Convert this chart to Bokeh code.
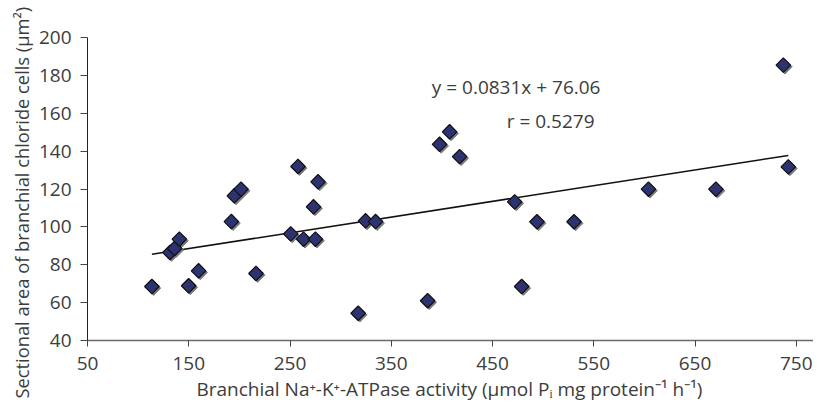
from bokeh.plotting import figure
from bokeh.models import Label, Range1d, FixedTicker, Title
from bokeh.embed import file_html
from bokeh.resources import INLINE
import math

# Data
atpase = [113.6, 131.4, 136.0, 140.7, 159.7, 149.9, 192.1, 195.0, 201.6, 216.4,
          250.7, 263.3, 275.1, 257.9, 277.7, 273.2, 324.6, 334.5, 317.3, 385.9,
          397.7, 407.6, 417.5, 471.9, 493.9, 478.8, 530.5, 604.0, 670.6, 742.1, 737.2]
area = [68.5, 86.5, 88.6, 93.5, 76.8, 68.9, 102.8, 116.4, 119.9, 75.4,
        96.3, 93.5, 93.5, 131.9, 123.8, 110.6, 103.2, 102.8, 54.4, 61.0,
        143.6, 150.2, 137.1, 113.2, 102.7, 68.5, 102.7, 119.9, 119.9, 131.7, 185.4]
slope = 0.0831
intercept = 76.06
x_ticks = [50, 150, 250, 350, 450, 550, 650, 750]
y_ticks = [40, 60, 80, 100, 120, 140, 160, 180, 200]
eq_text = "y = 0.0831x + 76.06"
r_text = "r = 0.5279"
x_title = "Branchial Na\u207a-K\u207a-ATPase activity (\u03bcmol P\u1d62 mg protein\u207b\u00b9 h\u207b\u00b9)"
y_title = "Sectional area of branchial chloride cells (\u03bcm\u00b2)"

FONT = "Open Sans"
TXT = "#3c3c3c"
FS = "19px"

x_start, x_end = 50, 767
y_start, y_end = 40, 200
W, H = 813, 403
BL, BR, BT, BB = 87, 0, 37, 63

p = figure(width=W, height=H, output_backend="svg", toolbar_location=None,
           x_range=Range1d(x_start, x_end), y_range=Range1d(y_start, y_end),
           min_border_left=BL, min_border_right=BR, min_border_top=BT, min_border_bottom=BB)
p.outline_line_color = None
p.xgrid.visible = False
p.ygrid.visible = False

for ax in (p.xaxis[0], p.yaxis[0]):
    ax.major_label_text_font = FONT
    ax.major_label_text_font_size = FS
    ax.major_label_text_color = TXT
    ax.minor_tick_line_color = None
    ax.major_tick_in = 0

p.xaxis.ticker = FixedTicker(ticks=x_ticks)
p.yaxis.ticker = FixedTicker(ticks=y_ticks)
p.xaxis.axis_line_color = "#6a6a6a"
p.xaxis.axis_line_width = 1.5
p.xaxis.major_tick_line_color = "#444444"
p.xaxis.major_tick_out = 6
p.yaxis.axis_line_color = "#222222"
p.yaxis.major_tick_line_color = "#444444"
p.yaxis.major_tick_out = 7
p.xaxis.major_label_standoff = 10
p.yaxis.major_label_standoff = 9

# axis titles as side-panel titles (so they can be shifted along the axis)
p.add_layout(Title(text=y_title, align="left", offset=-58, standoff=4,
                   text_font=FONT, text_font_size="18.3px", text_color=TXT,
                   text_font_style="normal"), "left")
p.add_layout(Title(text=x_title, align="left", offset=109, standoff=2,
                   text_font=FONT, text_font_size=FS, text_color=TXT,
                   text_font_style="normal"), "below")

# regression line over the data range
x0, x1 = min(atpase), max(atpase)
p.line([x0, x1], [slope * x0 + intercept, slope * x1 + intercept],
       line_color="#111111", line_width=1.6)

# marker shadow (offset by ~1.6px)
fw = W - BL - BR
fh = H - BT - BB
ux = (x_end - x_start) / fw
uy = (y_end - y_start) / fh
dx, dy = 1.6 * ux, 1.6 * uy
p.scatter([v + dx for v in atpase], [v - dy for v in area], marker="square",
          size=10.3, angle=math.pi / 4, fill_color="#7a7a7a", line_color="#7a7a7a",
          line_width=1)
p.scatter(atpase, area, marker="square", size=10.3, angle=math.pi / 4,
          fill_color="#2d3270", line_color="#111111", line_width=1.2)

p.add_layout(Label(x=390, y=173.6, text=eq_text, text_font=FONT, text_font_size=FS,
                   text_color=TXT, text_baseline="alphabetic", text_align="left"))
p.add_layout(Label(x=464, y=156.0, text=r_text, text_font=FONT, text_font_size=FS,
                   text_color=TXT, text_baseline="alphabetic", text_align="left"))

open("out.html", "w").write(file_html(p, INLINE))
